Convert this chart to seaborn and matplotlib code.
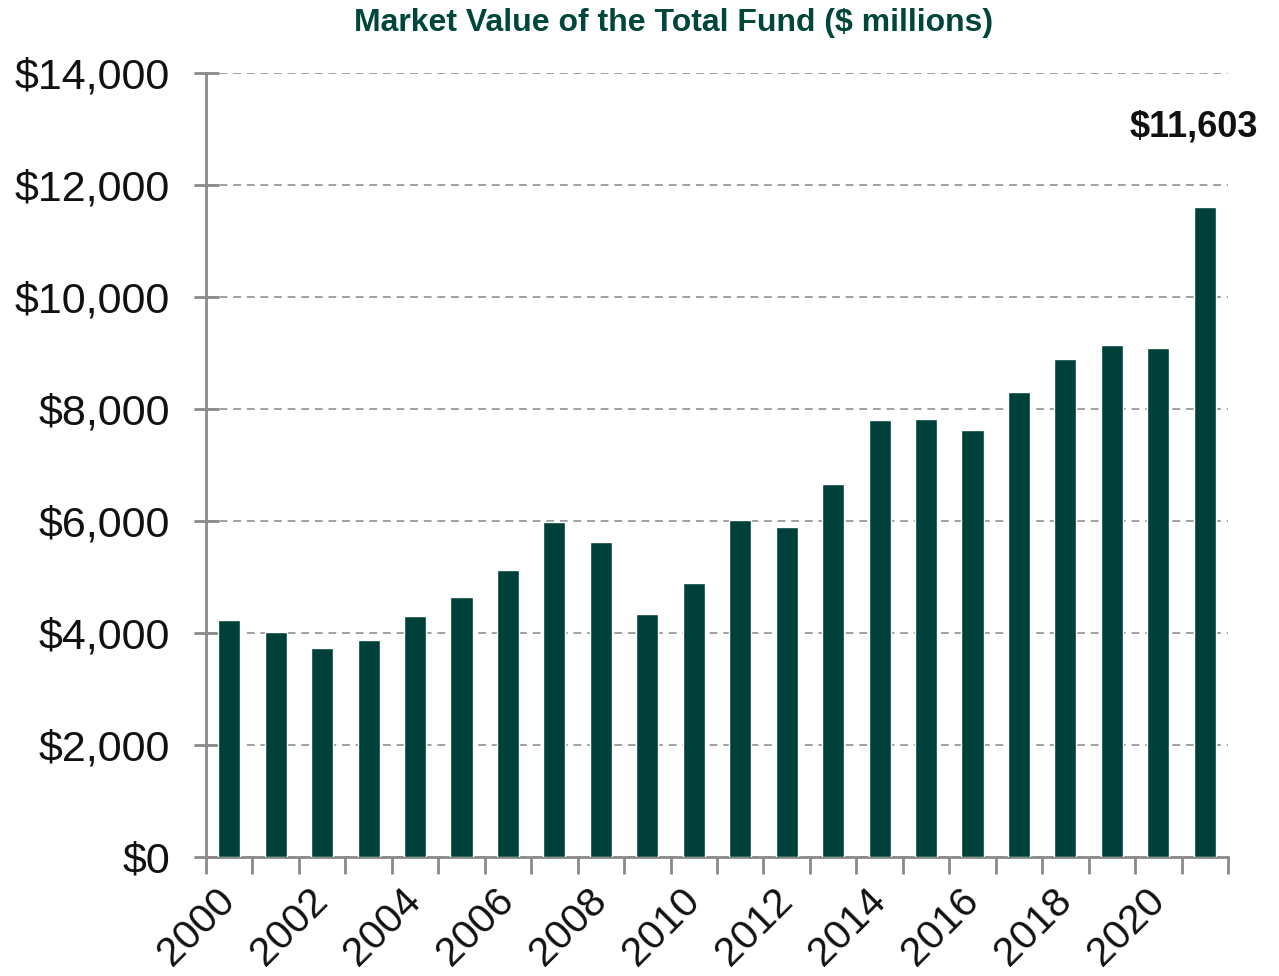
import matplotlib
matplotlib.use("Agg")
import matplotlib.pyplot as plt
from matplotlib.ticker import FixedLocator, FuncFormatter
import seaborn as sns
import pandas as pd

years = list(range(2000, 2022))
values = [4230, 4020, 3730, 3870, 4300, 4640, 5130, 5990, 5630, 4340, 4900,
          6020, 5890, 6660, 7800, 7820, 7620, 8300, 8900, 9150, 9090, 11603]
tick_years = [str(y) for y in range(2000, 2021, 2)]
title_text = "Market Value of the Total Fund ($ millions)"
annotation_text = "$11,603"

bar_color = "#00403A"
title_color = "#00463A"
text_color = "#111111"

sns.set_theme(style="white")
plt.rcParams['font.family'] = ['Liberation Sans', 'DejaVu Sans']

df = pd.DataFrame({"year": [str(y) for y in years], "value": values})

fig = plt.figure(figsize=(12.79, 9.76), dpi=100)
ax = fig.add_axes([206/1279, 1 - 857/976, (1228-206)/1279, (857-73)/976])

sns.barplot(data=df, x="year", y="value", color=bar_color, width=0.475,
            saturation=1, ax=ax, zorder=3)

ax.set_xlim(-0.5, len(years) - 0.5)
ax.set_ylim(0, 14000)
ax.set_yticks(range(0, 14001, 2000))
ax.yaxis.set_major_formatter(FuncFormatter(lambda v, p: f"${v:,.0f}"))
ax.grid(axis="y", linestyle=(0, (4, 3)), color="#a0a0a0", linewidth=1.4, zorder=0)
ax.grid(axis="x", visible=False)

for s in ["top", "right"]:
    ax.spines[s].set_visible(False)
for s in ["left", "bottom"]:
    ax.spines[s].set_color("#8a8a8a")
    ax.spines[s].set_linewidth(2)

# x ticks: labels at every other bar, marks at category boundaries
major_pos = [years.index(int(t)) for t in tick_years]
ax.set_xticks(major_pos)
ax.set_xticklabels(tick_years)
ax.xaxis.set_minor_locator(FixedLocator([i - 0.5 for i in range(len(years) + 1)]))
ax.tick_params(axis="x", which="major", length=0, pad=27, labelsize=29.5,
               labelcolor=text_color)
ax.tick_params(axis="x", which="minor", length=12, width=2, color="#8a8a8a",
               direction="out", bottom=True)
for lbl in ax.get_xticklabels():
    lbl.set_rotation(45)
    lbl.set_ha("right")
    lbl.set_va("center")
    lbl.set_rotation_mode("anchor")

ax.tick_params(axis="y", which="major", length=18, width=2, color="#8a8a8a",
               direction="inout", left=True, labelsize=31, pad=17,
               labelcolor=text_color)
ax.set_xlabel("")
ax.set_ylabel("")

ax.annotate(annotation_text, xy=(len(years) - 1, values[-1]), xytext=(-8, 58),
            textcoords="offset points", ha="center", va="center",
            fontsize=26, fontweight="bold", color=text_color)

fig.text(674/1279, 1 - 23/976, title_text, ha="center", va="center",
         fontsize=23, fontweight="bold", color=title_color)

fig.savefig("out.png", dpi=100, facecolor="white")
